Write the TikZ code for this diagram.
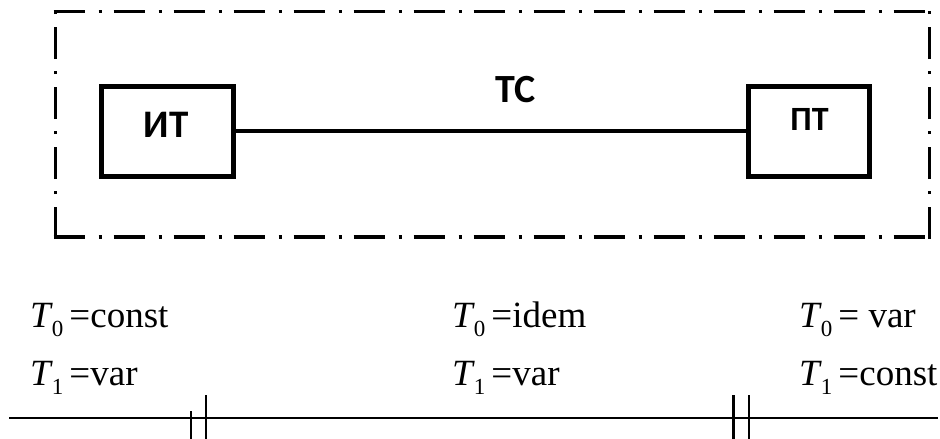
\documentclass[tikz,border=0pt]{standalone}
\usepackage{fontspec}
\setmainfont{Liberation Serif}
\newfontfamily\boxfont{Carlito}
\newcommand\Tsb[1]{\textit{T}\kern-1pt\raisebox{-9pt}{\fontsize{23}{23}\selectfont #1}}
\begin{document}
\begin{tikzpicture}[x=1pt,y=-1pt,
  blk/.style={draw,line width=5pt,inner sep=0pt},
  blklabel/.style={inner sep=0pt,font=\boxfont\bfseries},
  frame/.style={line width=3.5pt,dash pattern=on 31.7pt off 13.3pt on 3.3pt off 11.7pt},
  eqn/.style={inner sep=0pt,anchor=base west,font=\fontsize{37}{40}\selectfont},
  axis/.style={line width=2.5pt}]
\useasboundingbox (0,0) rectangle (940,439);
% dash-dot frame
\coordinate (fbl) at (55.3,239);
\coordinate (ftl) at (55.3,10);
\coordinate (fbr) at (929.5,239);
\coordinate (ftr) at (929.5,10);
\coordinate (ft1) at (53.5,11.5);
\coordinate (ft2) at (931,11.5);
\coordinate (fb1) at (53.5,237);
\coordinate (fb2) at (931,237);
\draw[frame] (fbl) -- (ftl);
\draw[frame] (fbr) -- (ftr);
\draw[frame] (ft1) -- (ft2);
\draw[frame] (fb1) -- (fb2);
% blocks
\node[blk,minimum width=132pt,minimum height=90pt] (it) at (167,131) {};
\node[blk,minimum width=121pt,minimum height=90pt] (pt) at (808.7,131) {};
\node[blklabel,font=\boxfont\bfseries\fontsize{39}{39}\selectfont] (itl) at (166,124.5) {ИТ};
\node[blklabel,font=\boxfont\bfseries\fontsize{34}{34}\selectfont] (ptl) at (809.5,119) {ПТ};
\node[blklabel,font=\boxfont\bfseries\fontsize{40}{40}\selectfont] (tc) at (515.5,90) {ТС};
\draw[line width=4.5pt] (it.east) -- (pt.west);
% equations
\node[eqn] (a1) at (30,327) {\Tsb{0}\kern6pt=const};
\node[eqn] (a2) at (30,385) {\Tsb{1}\kern6pt=var};
\node[eqn] (b1) at (452,327) {\Tsb{0}\kern6pt=idem};
\node[eqn] (b2) at (452,385) {\Tsb{1}\kern6pt=var};
\node[eqn] (c1) at (799,327) {\Tsb{0}\kern6pt= var};
\node[eqn] (c2) at (799,385) {\Tsb{1}\kern6pt=const};
% axis with breaks
\coordinate (ax1) at (9,418);
\coordinate (ax2) at (938,418);
\draw[axis] (ax1) -- (ax2);
\coordinate (k1t) at (191.2,411); \coordinate (k1b) at (191.2,439);
\coordinate (k2t) at (206,395); \coordinate (k2b) at (206,439);
\coordinate (k3t) at (733.7,395); \coordinate (k3b) at (733.7,439);
\coordinate (k4t) at (749,395); \coordinate (k4b) at (749,439);
\draw[axis] (k1t) -- (k1b);
\draw[axis] (k2t) -- (k2b);
\draw[axis] (k3t) -- (k3b);
\draw[axis] (k4t) -- (k4b);
\end{tikzpicture}
\end{document}
